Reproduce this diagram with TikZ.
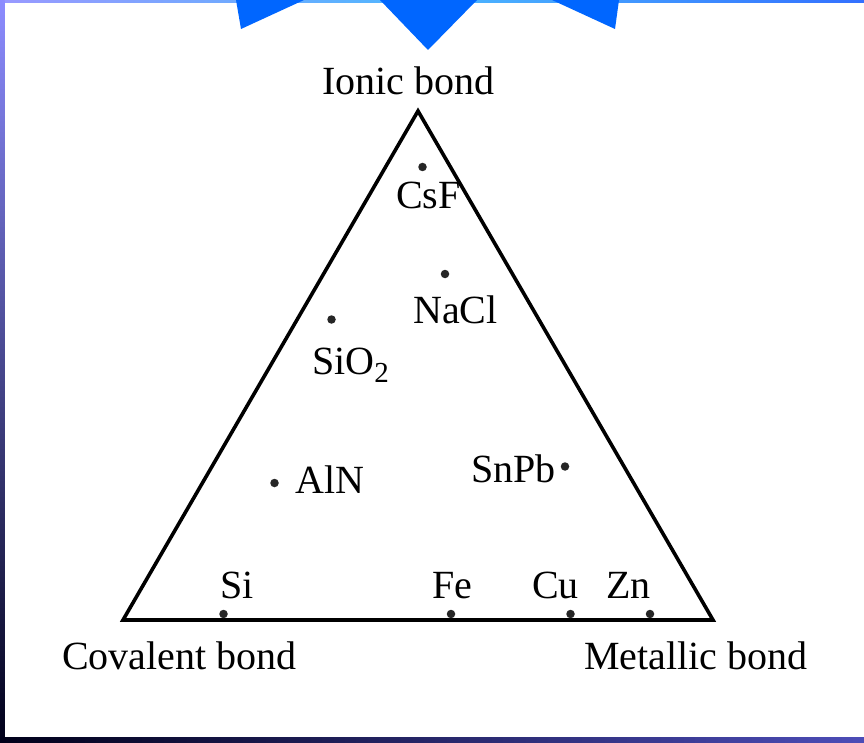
\documentclass[tikz,border=0pt]{standalone}
\usepackage{fontspec}
\setmainfont{Liberation Serif}
\begin{document}
\begin{tikzpicture}[x=1pt,y=-1pt,
  lbl/.style={font=\fontsize{40}{47}\selectfont, inner sep=0pt, anchor=base west},
  dot/.style={circle, fill=black!85, inner sep=0pt, minimum size=8.5pt},
  edge/.style={line width=3.6pt, line join=miter}]
\useasboundingbox (0,0) rectangle (864,743);
\fill[white] (0,0) rectangle (864,743);
% frame strips
\shade[left color=blue!40!white, right color=blue!70!cyan!80, middle color=cyan!60!blue!70] (0,0) rectangle (864,2.5);
\shade[top color=blue!45!white, middle color=blue!60!black!80, bottom color=black!90!blue] (0,0) rectangle (4.5,743);
\shade[left color=black!90!blue, right color=blue!60!black!70] (0,737) rectangle (864,743);
% blue shapes at top
\definecolor{topblue}{HTML}{0066FF}
\fill[topblue] (236,0) -- (241,29) -- (304,0) -- cycle;
\fill[topblue] (380,0) -- (428,50) -- (477,0) -- cycle;
\fill[topblue] (552,0) -- (615,29) -- (619,0) -- cycle;
% triangle
\coordinate (top) at (418,111);
\coordinate (bl) at (123,620);
\coordinate (br) at (713,620);
\draw[edge] (top) -- (br) -- (bl) -- cycle;
% corner labels
\node[lbl] (ionic) at (322,95) {Ionic bond};
\node[lbl] (cov) at (62,669) {Covalent bond};
\node[lbl] (met) at (584,669) {Metallic bond};
% points
\node[dot] (dcsf) at (422.5,167) {};
\node[lbl] (csf) at (396,209) {CsF};
\node[dot] (dnacl) at (445,274) {};
\node[lbl] (nacl) at (413,323) {NaCl};
\node[dot] (dsio) at (331.5,319.5) {};
\node[lbl] (sio) at (312,374) {SiO\raisebox{-0.22em}{\fontsize{29}{30}\selectfont 2}};
\node[dot] (daln) at (274.5,483) {};
\node[lbl] (aln) at (295,493) {AlN};
\node[dot] (dsnpb) at (565,466.5) {};
\node[lbl] (snpb) at (471,482) {SnPb};
\node[dot] (dsi) at (223.5,614) {};
\node[lbl] (si) at (220,598) {Si};
\node[dot] (dfe) at (451,614) {};
\node[lbl] (fe) at (432,598) {Fe};
\node[dot] (dcu) at (570.5,614) {};
\node[lbl] (cu) at (532,598) {Cu};
\node[dot] (dzn) at (650,614) {};
\node[lbl] (zn) at (606,598) {Zn};
\end{tikzpicture}
\end{document}
